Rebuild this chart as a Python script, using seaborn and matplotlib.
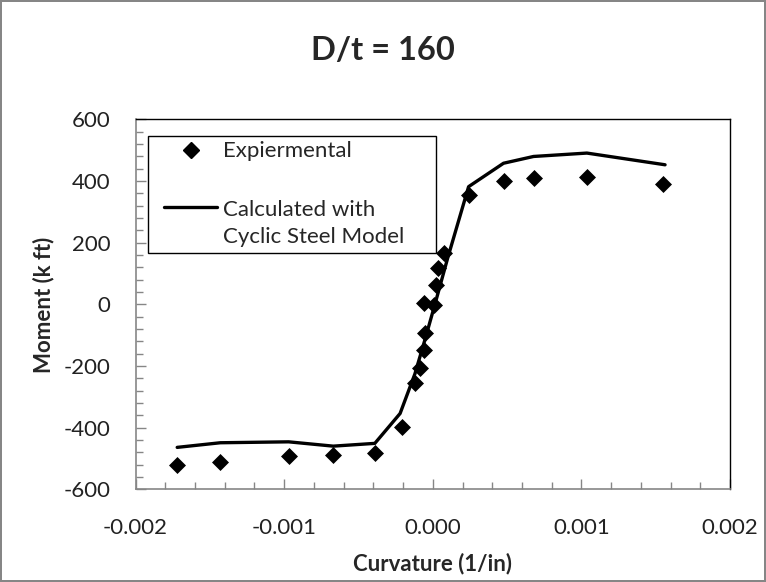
import numpy as np
import pandas as pd
import matplotlib
matplotlib.use("Agg")
import matplotlib.pyplot as plt
import seaborn as sns
from matplotlib.lines import Line2D
from matplotlib.patches import Rectangle
from matplotlib.legend_handler import HandlerLine2D
from matplotlib.ticker import MultipleLocator, FormatStrFormatter

# Experimental points (curvature 1/in, moment k ft)
exp_curv = [-0.00172, -0.00143, -0.00097, -0.00067, -0.00039, -0.00021,
            -0.000118, -0.000089, -0.000062, -0.00005, -0.000062, 0.000005,
            0.00002, 0.000037, 0.000077, 0.000245, 0.000476, 0.000678,
            0.001037, 0.001552]
exp_moment = [-521, -513, -492, -489, -483, -399,
              -256, -207, -148, -94, 4, -2,
              63, 117, 168, 355, 400, 409,
              412, 390]

# Calculated with cyclic steel model
calc_curv = [-0.00172, -0.00143, -0.00097, -0.00067, -0.00039, -0.00022,
             -0.00012, -0.00005, 0.00002, 0.0001, 0.000241, 0.000476,
             0.000678, 0.001037, 0.001563]
calc_moment = [-464, -449, -446, -460, -451, -354,
               -225, -110, 10, 150, 382, 458,
               480, 491, 453]

exp_df = pd.DataFrame({"Curvature": exp_curv, "Moment": exp_moment})
calc_df = pd.DataFrame({"Curvature": calc_curv, "Moment": calc_moment})


# legend line sits next to the first line of a two-line label
class TopLineHandler(HandlerLine2D):
    def create_artists(self, legend, orig_handle, xdescent, ydescent,
                       width, height, fontsize, trans):
        artists = super().create_artists(legend, orig_handle, xdescent, ydescent,
                                         width, height, fontsize, trans)
        for a in artists:
            a.set_ydata(np.asarray(a.get_ydata()) + 0.75 * fontsize)
        return artists


sns.set_style("white")
plt.rcParams["font.family"] = ["Lato", "DejaVu Sans"]
plt.rcParams["axes.unicode_minus"] = False

fig = plt.figure(figsize=(7.66, 5.82), dpi=100)
fig.patch.set_edgecolor("#868686")
fig.patch.set_linewidth(1.5)
ax = fig.add_axes([0.177, 0.1593, 0.776, 0.6354])

sns.lineplot(data=calc_df, x="Curvature", y="Moment", sort=False, estimator=None,
             color="black", linewidth=2.4, ax=ax, zorder=2)
sns.scatterplot(data=exp_df, x="Curvature", y="Moment", marker="D", s=75,
                color="black", edgecolor="black", linewidth=0, ax=ax, zorder=3)

ax.set_xlim(-0.002, 0.002)
ax.set_ylim(-600, 600)
ax.xaxis.set_major_locator(MultipleLocator(0.001))
ax.xaxis.set_minor_locator(MultipleLocator(0.0002))
ax.yaxis.set_major_locator(MultipleLocator(200))
ax.yaxis.set_minor_locator(MultipleLocator(40))
ax.xaxis.set_major_formatter(FormatStrFormatter("%.3f"))
ax.tick_params(axis="both", which="both", direction="in", color="#868686",
               labelsize=16, labelcolor="#222222")
ax.tick_params(axis="both", which="major", length=7, width=1)
ax.tick_params(axis="both", which="minor", length=4.8, width=1)
ax.tick_params(axis="x", which="major", pad=21)
ax.tick_params(axis="y", which="major", pad=18)
ax.tick_params(bottom=True, left=True, which="both")

for side in ["top", "right"]:
    ax.spines[side].set_color("black")
    ax.spines[side].set_linewidth(1)
for side in ["left", "bottom"]:
    ax.spines[side].set_color("#868686")
    ax.spines[side].set_linewidth(1.2)

ax.set_xlabel("Curvature (1/in)", fontsize=16, fontweight="bold", labelpad=10)
ax.set_ylabel("Moment (k ft)", fontsize=16, fontweight="bold", labelpad=7)
fig.suptitle("D/t = 160", fontsize=23.5, fontweight="bold", y=0.914, va="center")

# Legend box
ax.add_patch(Rectangle((0.0207, 0.639), 0.484, 0.316, transform=ax.transAxes,
                       facecolor="white", edgecolor="black", linewidth=1, zorder=4))
handles = [Line2D([], [], marker="D", color="black", linestyle="none", markersize=8),
           Line2D([], [], color="black", linewidth=2.4)]
leg = ax.legend(handles, ["Expiermental", "Calculated with\nCyclic Steel Model"],
                loc="upper left", bbox_to_anchor=(0.033, 0.965), frameon=False,
                fontsize=16, handlelength=2.4, handletextpad=0.25, labelspacing=1.75,
                borderaxespad=0,
                handler_map={handles[1]: TopLineHandler()})
for t in leg.get_texts():
    t.set_linespacing(1.45)
leg.set_zorder(5)

plt.savefig("out.png", dpi=100)
